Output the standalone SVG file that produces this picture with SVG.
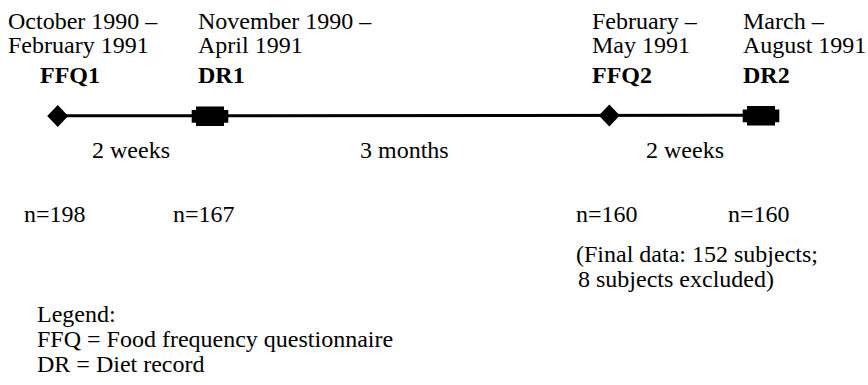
<svg xmlns="http://www.w3.org/2000/svg" width="868" height="385" viewBox="0 0 868 385">
<style>
text{font-family:"Liberation Serif","Times New Roman",serif;font-size:24px;fill:#000}
.b{font-weight:bold}
.mark{fill:#000}
</style>
<defs>
<path id="dr" d="M4.3,0 H32.3 V3.5 H36.6 V16.2 H32.3 V19.5 H4.3 V16.2 H0 V3.5 H4.3 Z"/>
<path id="ffq" d="M0,-11 L10.5,0 L0,11 L-10.5,0 Z"/>
</defs>
<rect width="868" height="385" fill="#fff"/>
<g id="connectors">
<line x1="58" y1="115.8" x2="760" y2="115.3" stroke="#000" stroke-width="3"/>
</g>
<g id="ffq1">
<text x="8" y="29">October 1990 –</text>
<text x="8" y="52.5">February 1991</text>
<text class="b" x="40" y="83">FFQ1</text>
<use href="#ffq" class="mark" x="57.7" y="116"/>
<text x="24" y="222">n=198</text>
</g>
<g id="dr1">
<text x="198" y="29">November 1990 –</text>
<text x="198" y="52.5">April 1991</text>
<text class="b" x="198" y="83">DR1</text>
<use href="#dr" class="mark" x="191.7" y="106.5"/>
<text x="173" y="222">n=167</text>
</g>
<g id="ffq2">
<text x="592" y="29">February –</text>
<text x="592" y="52.5">May 1991</text>
<text class="b" x="592" y="83">FFQ2</text>
<use href="#ffq" class="mark" x="609.3" y="115.5"/>
<text x="576" y="222">n=160</text>
<text x="576" y="262">(Final data: 152 subjects;</text>
<text x="578" y="286.5">8 subjects excluded)</text>
</g>
<g id="dr2">
<text x="743" y="29">March –</text>
<text x="743" y="52.5">August 1991</text>
<text class="b" x="743" y="83">DR2</text>
<use href="#dr" class="mark" x="742.7" y="106"/>
<text x="728" y="222">n=160</text>
</g>
<g id="intervals">
<text x="92" y="158">2 weeks</text>
<text x="360" y="158">3 months</text>
<text x="646" y="158">2 weeks</text>
</g>
<g id="legend">
<text x="37" y="322">Legend:</text>
<text x="37" y="347">FFQ = Food frequency questionnaire</text>
<text x="37" y="372">DR = Diet record</text>
</g>
</svg>
